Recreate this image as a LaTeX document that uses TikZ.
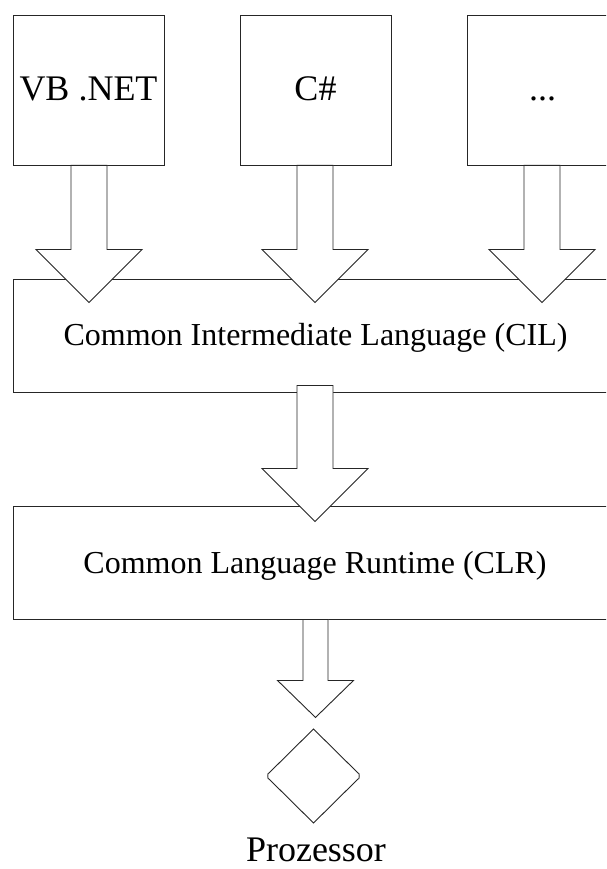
\documentclass[tikz,border=0pt]{standalone}
\usepackage{fontspec}
\setmainfont{Liberation Serif}
\usetikzlibrary{calc}
\newcommand\fatarrow[5]{% #1 start, #2 shaft half, #3 head half, #4 head base offset, #5 tip offset
  \draw[blockarrow] ($(#1)+(-#2,0)$) -- ($(#1)+(-#2,#4)$) -- ($(#1)+(-#3,#4)$) -- ($(#1)+(0,#5)$)
     -- ($(#1)+(#3,#4)$) -- ($(#1)+(#2,#4)$) -- ($(#1)+(#2,0)$) -- cycle;}
\begin{document}
\begin{tikzpicture}[x=1pt,y=-1pt, line width=0.9pt,
  box/.style={draw=black!85, fill=white, inner sep=0pt},
  blockarrow/.style={draw=black!85, fill=white, line join=miter},
  bigtext/.style={font=\fontsize{36}{40}\selectfont, inner sep=0pt, anchor=base},
  midtext/.style={font=\fontsize{32}{36}\selectfont, inner sep=0pt, anchor=base}]
\useasboundingbox (0,0) rectangle (606,869);
\fill[white] (0,0) rectangle (606,869);
\clip (0,0) rectangle (606,869);
% source language boxes
\node[box, minimum width=151pt, minimum height=150pt] (vb) at (88.5,90) {};
\node[box, minimum width=151pt, minimum height=150pt] (cs) at (315.5,90) {};
\node[box, minimum width=151pt, minimum height=150pt] (dots) at (542.5,90) {};
\node[bigtext] (vbt) at (88.5,101) {VB .NET};
\node[bigtext] (cst) at (315.5,101) {C\#};
\node[bigtext] (dotst) at (542.5,101) {...};
% middle boxes
\node[box, minimum width=605pt, minimum height=113pt] (cil) at (315.5,335.5) {};
\node[box, minimum width=605pt, minimum height=113pt] (clr) at (315.5,562.5) {};
% arrows
\coordinate (a1) at (vb.south -| 89,0);
\coordinate (a2) at (cs.south -| 315,0);
\coordinate (a3) at (dots.south -| 542,0);
\fatarrow{a1}{18}{53}{84}{137}
\fatarrow{a2}{18}{53}{84}{137}
\fatarrow{a3}{18}{53}{84}{137}
\coordinate (a4) at ($(cil.south -| 315,0)+(0,-7)$);
\fatarrow{a4}{18}{53}{83}{136}
\coordinate (a5) at (clr.south -| 315.5,0);
\fatarrow{a5}{12.5}{38}{61}{98}
% texts of the middle boxes
\node[midtext] (cilt) at (315.5,345) {Common Intermediate Language (CIL)};
\node[midtext] (clrt) at (315,573) {Common Language Runtime (CLR)};
% processor
\coordinate (proc) at (313.5,776);
\draw[draw=black!85] ($(proc)+(0,-47)$) -- ($(proc)+(44.5,-3)$) to[out=45,in=-45] ($(proc)+(44.5,3)$) -- ($(proc)+(0,47)$)
  -- ($(proc)+(-44.5,3)$) to[out=225,in=135] ($(proc)+(-44.5,-3)$) -- cycle;
\node[bigtext] (proct) at (316,861) {Prozessor};
\end{tikzpicture}
\end{document}
